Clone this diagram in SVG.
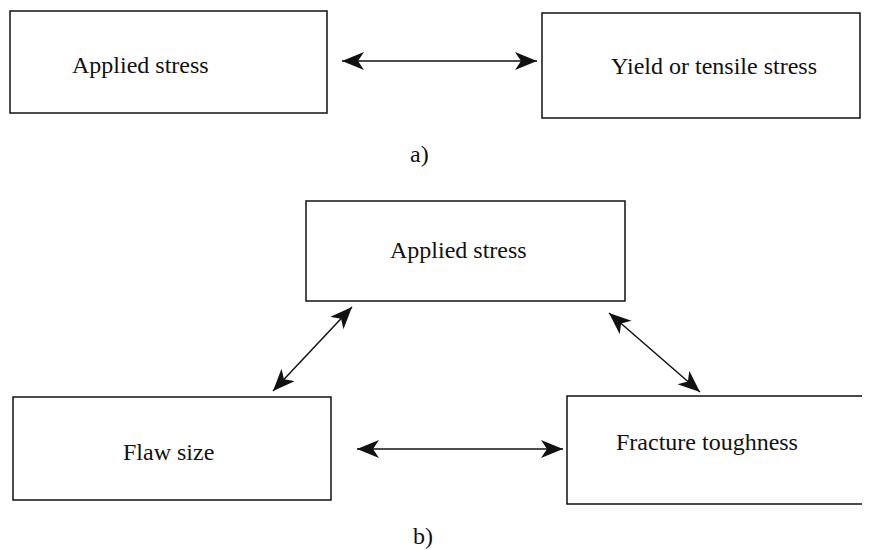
<svg xmlns="http://www.w3.org/2000/svg" width="873" height="550" viewBox="0 0 873 550">
  <style>
    .box { fill: none; stroke: #111; stroke-width: 1.5; }
    .lbl { font-family: "Liberation Serif", "Times New Roman", serif; font-size: 24px; fill: #111; }
    .link { stroke: #111; stroke-width: 1.5; fill: none; marker-start: url(#head); marker-end: url(#head); }
  </style>
  <defs>
    <marker id="head" markerUnits="userSpaceOnUse" markerWidth="24" markerHeight="20" refX="22" refY="9" orient="auto-start-reverse" viewBox="0 0 24 20">
      <path d="M0,0 L22,9 L0,18 L6,9 z" fill="#111"/>
    </marker>
  </defs>
  <rect width="873" height="550" fill="#fff"/>

  <!-- part a -->
  <g id="a-applied">
    <rect class="box" x="10" y="11" width="317" height="102"/>
    <text class="lbl" x="72" y="73">Applied stress</text>
  </g>
  <g id="a-yield">
    <rect class="box" x="542" y="13" width="318" height="105"/>
    <text class="lbl" x="611" y="74">Yield or tensile stress</text>
  </g>
  <text class="lbl" x="410" y="162">a)</text>

  <!-- part b -->
  <g id="b-applied">
    <rect class="box" x="306" y="201" width="319" height="100"/>
    <text class="lbl" x="390" y="258">Applied stress</text>
  </g>
  <g id="b-flaw">
    <rect class="box" x="13" y="397" width="318" height="103"/>
    <text class="lbl" x="123" y="460">Flaw size</text>
  </g>
  <g id="b-toughness">
    <path class="box" d="M862,396 H567 V504 H862"/>
    <text class="lbl" x="616" y="450">Fracture toughness</text>
  </g>
  <text class="lbl" x="413" y="544">b)</text>

  <g id="connectors">
    <line class="link" x1="342" y1="61" x2="537" y2="61"/>
    <line class="link" x1="352" y1="307" x2="273" y2="391"/>
    <line class="link" x1="609" y1="313" x2="700" y2="392"/>
    <line class="link" x1="357" y1="449" x2="563" y2="449"/>
  </g>
</svg>
